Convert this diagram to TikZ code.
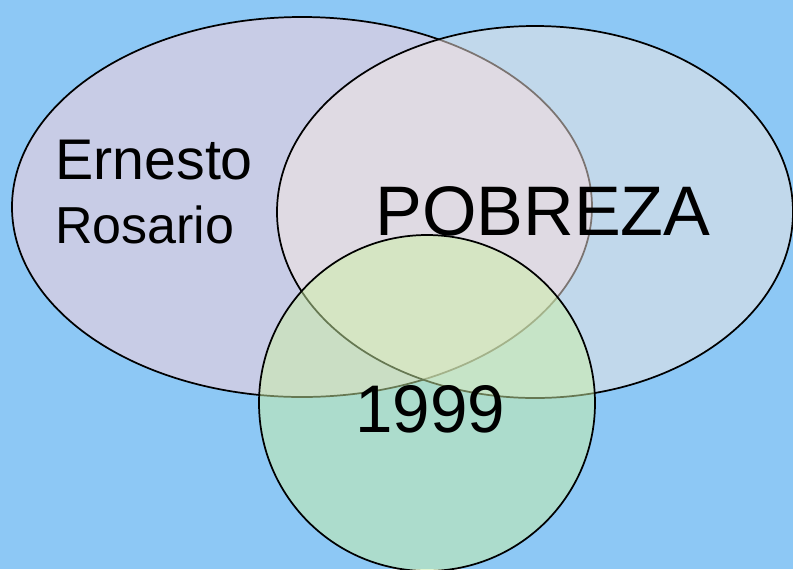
\documentclass[tikz,border=0pt]{standalone}
\usepackage{fontspec}
\setmainfont{Liberation Sans}
\usepackage{tikz}
\usetikzlibrary{positioning}
\definecolor{skyback}{HTML}{8DC8F5}
\definecolor{lavender}{HTML}{C8CCE6}
\definecolor{peach}{HTML}{F6E8E2}
\definecolor{lime}{HTML}{CCF0A4}
\tikzset{set_line/.style={draw=black, line width=1.3pt}}
\tikzset{big_label/.style={anchor=base west, inner sep=0pt, text=black}}

\begin{document}
\begin{tikzpicture}[x=0.75pt, y=-0.75pt]

	\fill[skyback] (0,0) rectangle (793,569);
	\useasboundingbox (0,0) rectangle (793,569);

	% person
	\filldraw[set_line, fill=lavender] (302,207) ellipse [x radius=290, y radius=190];

	% topic
	\filldraw[set_line, fill=peach, fill opacity=0.5, draw opacity=1] (535,212) ellipse [x radius=258, y radius=186];

	% year
	\filldraw[set_line, fill=lime, fill opacity=0.5, draw opacity=1] (427,403) ellipse [x radius=168, y radius=168];

	\node (ernesto) [big_label] at (55,179) {\fontsize{43}{43}\selectfont Ernesto};
	\node (rosario) [big_label] at (55,243) {\fontsize{39}{39}\selectfont Rosario};
	\node (pobreza) [big_label] at (375,235) {\fontsize{52.6}{52.6}\selectfont POBREZA};
	\node (year) [big_label] at (355,432) {\fontsize{50.5}{50.5}\selectfont 1999};

\end{tikzpicture}
\end{document}
